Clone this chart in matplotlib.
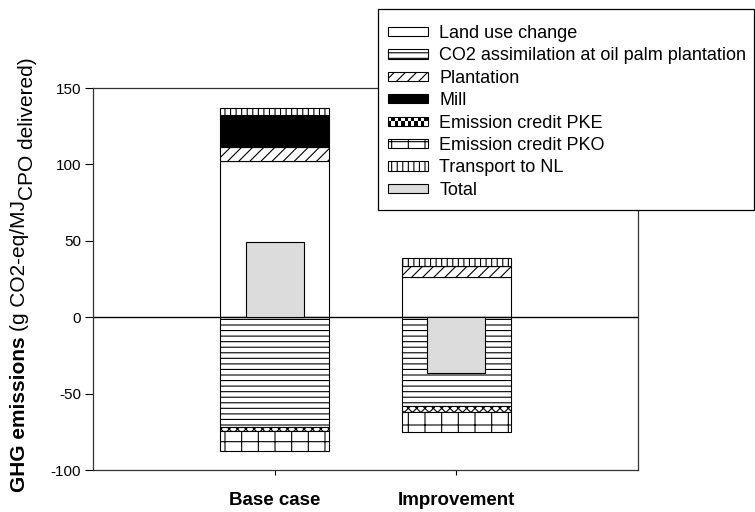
import matplotlib
matplotlib.use('Agg')
import matplotlib.pyplot as plt
import numpy as np
from matplotlib.patches import Patch, Rectangle
from matplotlib.legend_handler import HandlerBase
from matplotlib.transforms import IdentityTransform

plt.rcParams['font.family'] = ['Liberation Sans', 'DejaVu Sans']
plt.rcParams['hatch.linewidth'] = 0.8
plt.rcParams['axes.unicode_minus'] = False

# ---- data ----
categories = ['Base case', 'Improvement']
land_use_change = [102.4, 26.5]
plantation = [8.8, 7.2]
mill = [21.3, 0.0]
transport = [4.5, 4.8]
co2_assimilation = [-72.0, -58.0]
credit_pke = [-2.5, -4.0]
credit_pko = [-12.8, -13.2]
total = [49.5, -36.5]

series_labels = ['Land use change', 'CO2 assimilation at oil palm plantation',
                 'Plantation', 'Mill', 'Emission credit PKE',
                 'Emission credit PKO', 'Transport to NL', 'Total']

styles = {
    'Land use change': ('white', None),
    'CO2 assimilation at oil palm plantation': ('white', '---'),
    'Plantation': ('white', '///'),
    'Mill': ('black', None),
    'Emission credit PKE': ('white', 'xxxx'),
    'Emission credit PKO': ('white', '+'),
    'Transport to NL': ('white', '|||'),
    'Total': ('#dcdcdc', None),
}

W, H = 755, 512
fig = plt.figure(figsize=(W / 100, H / 100), dpi=100)
ax = fig.add_axes([93/W, 42/H, 545/W, 382/H])
x = np.arange(1, len(categories) + 1)
bw = 0.6

pos = [('Land use change', land_use_change), ('Plantation', plantation),
       ('Mill', mill), ('Transport to NL', transport)]
neg = [('CO2 assimilation at oil palm plantation', co2_assimilation),
       ('Emission credit PKE', credit_pke), ('Emission credit PKO', credit_pko)]

for group in (pos, neg):
    bottom = np.zeros(len(categories))
    for name, vals in group:
        fc, h = styles[name]
        vals = np.asarray(vals, float)
        ax.bar(x, vals, bw, bottom=bottom, facecolor=fc, edgecolor='black',
               hatch=h, linewidth=0.8, zorder=2)
        bottom = bottom + vals

ax.axhline(0, color='black', lw=1.0, zorder=2.5)
ax.bar(x, total, 0.32, facecolor=styles['Total'][0], edgecolor='black',
       linewidth=0.8, zorder=3)

ax.set_xlim(0, 3)
ax.set_ylim(-100, 150)
ax.set_yticks(np.arange(-100, 151, 50))
ax.set_xticks(x)
ax.set_xticklabels(categories, fontsize=13.5, fontweight='bold')
ax.tick_params(axis='y', direction='out', length=5.5, width=0.8, labelsize=11, pad=3)
ax.tick_params(axis='x', direction='out', length=3.5, width=0.8, pad=12)
for s in ax.spines.values():
    s.set_linewidth(0.9)
    s.set_color('#333333')


class CheckerHandler(HandlerBase):
    def create_artists(self, legend, orig_handle, xdescent, ydescent,
                       width, height, fontsize, trans):
        arts = []
        ncols = 12
        nrows = 2
        cw = width / ncols
        ch = height / nrows
        for i in range(ncols):
            for j in range(nrows):
                c = 'black' if (i + j) % 2 == 0 else 'white'
                arts.append(Rectangle((-xdescent + i * cw, -ydescent + j * ch),
                                      cw, ch, facecolor=c, edgecolor='none',
                                      transform=trans))
        arts.append(Rectangle((-xdescent, -ydescent), width, height,
                              facecolor='none', edgecolor='black', lw=0.8,
                              transform=trans))
        return arts


# legend box drawn as a figure-level rectangle (above the axes)
box = Rectangle((378/W, 1 - 210/H), 376/W, 201/H, transform=fig.transFigure,
                facecolor='white', edgecolor='black', linewidth=0.9, zorder=4)
fig.patches.append(box)

handles = []
handler_map = {}
for name in series_labels:
    fc, h = styles[name]
    p = Patch(facecolor=fc, edgecolor='black', hatch=h, linewidth=0.8, label=name)
    handles.append(p)
    if name == 'Emission credit PKE':
        handler_map[p] = CheckerHandler()

leg = fig.legend(handles=handles, labels=series_labels, loc='upper left',
                 bbox_to_anchor=(388/W, 1 - 25/H), fontsize=13,
                 frameon=False, handlelength=2.2, handleheight=0.4,
                 handletextpad=0.65, labelspacing=0.3, borderpad=0,
                 borderaxespad=0, handler_map=handler_map)
leg.set_zorder(5)

# ---- y label made of several pieces ----
fig.canvas.draw()
r = fig.canvas.get_renderer()
fs = 15
pieces = [("GHG emissions", 'bold', 25, 0),
          ("(g CO2-eq/MJ", 'normal', 25, 5),
          ("CPO delivered)", 'normal', 33, 0)]
ycur = H - 492
for txt, wt, xb, gap in pieces:
    ycur += gap
    t = fig.text(xb, ycur, txt, rotation=90, rotation_mode='anchor',
                 ha='left', va='baseline', fontsize=fs, fontweight=wt,
                 transform=IdentityTransform())
    bb = t.get_window_extent(r)
    ycur += bb.height

fig.savefig('out.png', dpi=100)
